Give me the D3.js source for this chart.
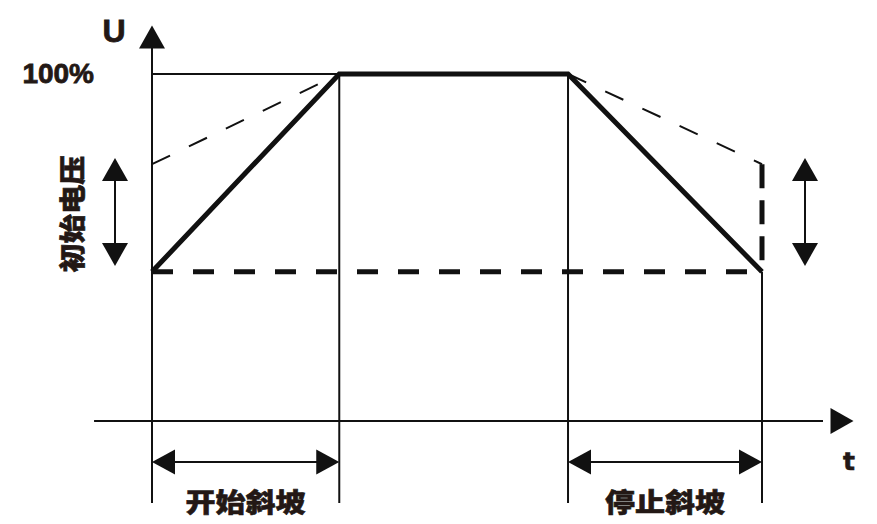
<!DOCTYPE html>
<html>
<head>
<meta charset="utf-8">
<script src="https://cdn.jsdelivr.net/npm/d3@7"></script>
<style>
  body { margin: 0; background: #fff; }
  svg { display: block; }
</style>
</head>
<body>
<div class="usable"></div>
<script>
// tiempos (0-100) y tensiones (%)
const tiempos = [0, 30.7, 68.2, 100]        // inicio, fin rampa, inicio parada, fin parada
const tensionRampa = [43, 100, 100, 43]     // rampa normal (linea gruesa)
const tensionAlta = [74, 100, 100, 74]      // rampa con tension inicial mas alta (punteada)
const tensionInicial = 43
const rangoFlechas = [44.7, 75.8]           // flechas dobles del "初始电压"
const nivelFlechasT = -11.8
const etiquetas = ["开始斜坡", "停止斜坡"]
const etiquetaY = "初始电压"
const tick100 = "100%"

const width = 877,
  height = 524

const x = d3.scaleLinear().domain([0, 100]).range([152, 762])
const y = d3.scaleLinear().domain([0, 100]).range([421, 74])

let b = d3.select(".usable").append("svg")
  .attr("width", width)
  .attr("height", height)

const tinta = "#111"
const letra = "#231815"
const cjk = "'Noto Sans CJK SC', 'Noto Sans', sans-serif"
const latin = "'Liberation Sans', Arial, sans-serif"

function linea(x1, y1, x2, y2, grosor, guion) {
  let l = b.append("line").attr("x1", x1).attr("y1", y1).attr("x2", x2).attr("y2", y2)
    .attr("stroke", tinta).attr("stroke-width", grosor)
  if (guion) l.attr("stroke-dasharray", guion)
  return l
}

// triangulo con punta en (px,py), direccion: "up","down","left","right"
function punta(px, py, dir, largo = 23, ancho = 26) {
  let h = ancho / 2, pts
  if (dir == "up") pts = [[px, py], [px - h, py + largo], [px + h, py + largo]]
  if (dir == "down") pts = [[px, py], [px - h, py - largo], [px + h, py - largo]]
  if (dir == "left") pts = [[px, py], [px + largo, py - h], [px + largo, py + h]]
  if (dir == "right") pts = [[px, py], [px - largo, py - h], [px - largo, py + h]]
  b.append("path").attr("d", d3.line()(pts) + "Z").attr("fill", tinta)
}

function texto(t, fuente, grueso) {
  return b.append("text").text(t).style("font", fuente)
    .attr("fill", letra).attr("stroke", letra).attr("stroke-width", grueso)
}

// ejes
linea(x(0), y(-23.6), x(0), y(108), 2)
punta(x(0), y(114), "up")
linea(x(-9.5), y(0), x(110), y(0), 2)
punta(x(115), y(0), "right")

// lineas verticales de referencia
tiempos.slice(1).forEach(function (t, i) {
  let top = i < 2 ? y(100) : y(tensionInicial)
  linea(x(t), top, x(t), y(-23.6), 2)
})

// linea fina del 100%
linea(x(0), y(100), x(tiempos[1]), y(100), 2)

// tension inicial (punteada gruesa)
linea(x(0), y(tensionInicial), x(100), y(tensionInicial), 5, "21,20")

// rampa alta punteada
const trazo = d3.line().x((d, i) => x(tiempos[i])).y(d => y(d))
b.append("path").attr("d", trazo(tensionAlta.slice(0, 2)))
  .attr("fill", "none").attr("stroke", tinta).attr("stroke-width", 2).attr("stroke-dasharray", "20,21")
b.append("path").attr("d", trazo.x((d, i) => x(tiempos[i + 2]))(tensionAlta.slice(2)))
  .attr("fill", "none").attr("stroke", tinta).attr("stroke-width", 2).attr("stroke-dasharray", "20,21")
linea(x(100), y(tensionAlta[3]), x(100), y(tensionInicial), 5, "24,12")

// rampa principal
b.append("path").attr("d", d3.line().x((d, i) => x(tiempos[i])).y(d => y(d))(tensionRampa))
  .attr("fill", "none").attr("stroke", tinta).attr("stroke-width", 5).attr("stroke-linejoin", "miter")

// flechas dobles verticales
;[x(0) - 37, x(100) + 43].forEach(function (fx) {
  linea(fx, y(rangoFlechas[1]) + 20, fx, y(rangoFlechas[0]) - 20, 2)
  punta(fx, y(rangoFlechas[1]), "up")
  punta(fx, y(rangoFlechas[0]), "down")
})

// flechas dobles horizontales
;[[tiempos[0], tiempos[1]], [tiempos[2], tiempos[3]]].forEach(function (par) {
  let yy = y(nivelFlechasT)
  linea(x(par[0]) + 20, yy, x(par[1]) - 20, yy, 2)
  punta(x(par[0]), yy, "left", 23, 25)
  punta(x(par[1]), yy, "right", 23, 25)
})

// textos
texto("U", "bold 32px " + latin, 0.8).attr("x", 114).attr("y", 42).attr("text-anchor", "middle")
texto(tick100, "bold 28px " + latin, 0.8).attr("x", 94).attr("y", 83).attr("text-anchor", "end")
texto("t", "bold 25px 'DejaVu Sans', sans-serif", 0.6).attr("x", 849).attr("y", 470).attr("text-anchor", "middle")

;[[tiempos[0], tiempos[1]], [tiempos[2], tiempos[3]]].forEach(function (par, i) {
  texto(etiquetas[i], "900 26px " + cjk, 0.6)
    .attr("x", (x(par[0]) + x(par[1])) / 2).attr("y", 500)
    .attr("text-anchor", "middle").attr("dominant-baseline", "central")
    .attr("textLength", 120).attr("lengthAdjust", "spacingAndGlyphs")
})

texto(etiquetaY, "900 26px " + cjk, 0.6)
  .attr("transform", "translate(70,214) rotate(-90)")
  .attr("text-anchor", "middle").attr("dominant-baseline", "central")
  .attr("textLength", 117).attr("lengthAdjust", "spacingAndGlyphs")
</script>
</body>
</html>
